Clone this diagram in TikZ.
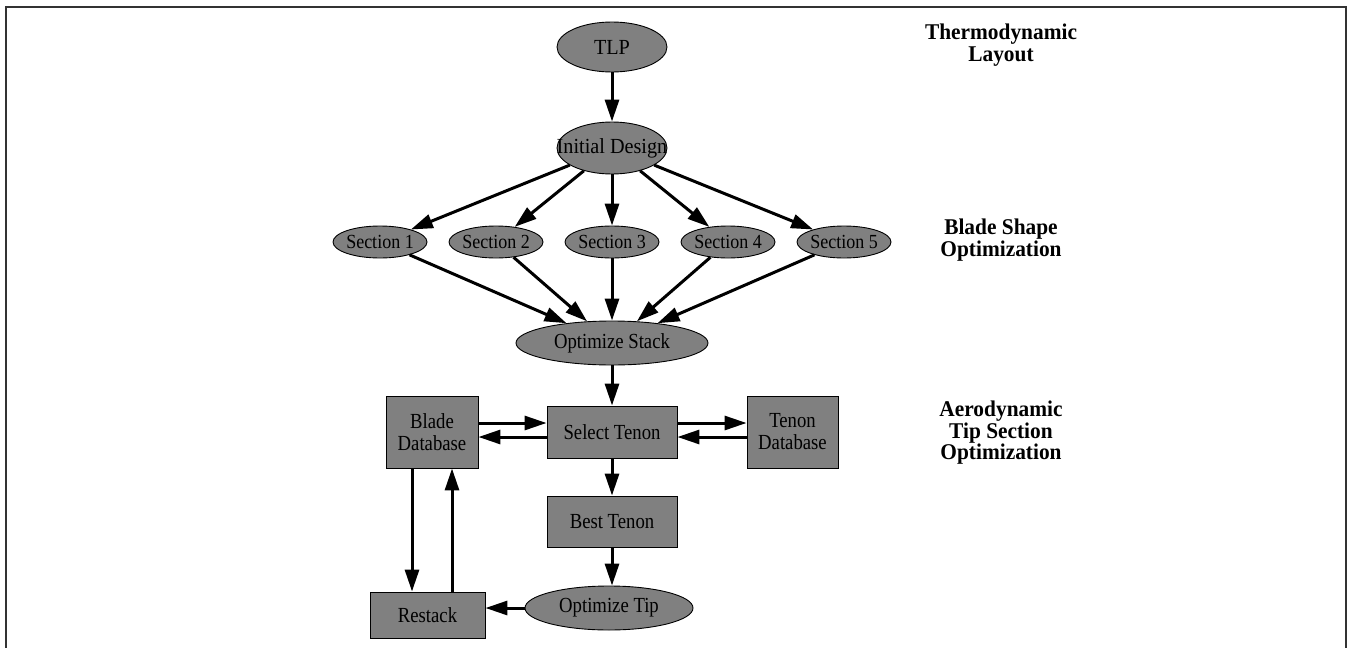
\documentclass[tikz,border=0pt]{standalone}
\usepackage{fontspec}
\setmainfont{Liberation Serif}
\newfontfamily\fA{Liberation Serif}[FakeStretch=0.87]
\newfontfamily\fB{Liberation Serif}[FakeStretch=0.94]
\newfontfamily\fS{Liberation Serif}[FakeStretch=0.9]
\newfontfamily\fL{Liberation Serif}[FakeStretch=0.95]
\usetikzlibrary{shapes.geometric,arrows.meta}
\definecolor{nodegray}{HTML}{808080}
\definecolor{framegray}{HTML}{333333}
\newcommand{\zt}[1]{\makebox[0pt]{#1}}
\tikzset{
  ell/.style={ellipse, draw=black, line width=0.9pt, fill=nodegray, inner sep=0pt},
  boxn/.style={rectangle, draw=black, line width=0.9pt, fill=nodegray, inner sep=0pt, align=center},
  bigtxt/.style={font=\fB\fontsize{21.5}{22}\selectfont},
  midtxt/.style={font=\fA\fontsize{21.5}{22}\selectfont},
  smalltxt/.style={font=\fS\fontsize{20}{20}\selectfont},
  lev/.style={font=\fL\fontsize{22.5}{21.5}\selectfont\bfseries, align=center, inner sep=0pt},
  conn/.style={line width=3pt, -{Triangle[length=22pt,width=14pt]}}
}
\begin{document}
\begin{tikzpicture}[x=1pt,y=-1pt]
\useasboundingbox (0,0) rectangle (1347,648);
\draw[framegray, line width=1.5pt] (6,648) -- (6,7) -- (1346,7) -- (1346,648);

% nodes
\node[ell, bigtxt, minimum width=110pt, minimum height=50pt] (tlp) at (612,47) {\zt{TLP}};
\node[ell, bigtxt, minimum width=110pt, minimum height=52pt] (init) at (612,148) {\zt{Initial Design}};
\foreach \i/\x in {1/380,2/496,3/612,4/728,5/844}{
  \node[ell, smalltxt, minimum width=94pt, minimum height=32pt] (s\i) at (\x,242) {\zt{Section \i}};
}
\node[ell, midtxt, minimum width=192pt, minimum height=44pt] (ostack) at (612,343) {\zt{Optimize Stack}};
\node[boxn, midtxt, minimum width=130pt, minimum height=52pt] (sel) at (612,432) {Select Tenon};
\node[boxn, midtxt, minimum width=92pt, minimum height=72pt] (blade) at (432,432) {Blade\\Database};
\node[boxn, midtxt, minimum width=91pt, minimum height=72pt] (tenon) at (792.5,432) {Tenon\\Database};
\node[boxn, midtxt, minimum width=130pt, minimum height=51pt] (best) at (612,521.5) {Best Tenon};
\node[ell, midtxt, minimum width=168pt, minimum height=44pt] (tip) at (609,608) {\zt{Optimize Tip}};
\node[boxn, midtxt, minimum width=115pt, minimum height=46pt] (restack) at (427.5,615) {Restack};

% level labels
\node[lev] (l1) at (1001,45) {Thermodynamic\\Layout};
\node[lev] (l2) at (1001,240) {Blade Shape\\Optimization};
\node[lev] (l3) at (1001,433) {Aerodynamic\\Tip Section\\Optimization};

% connectors
\draw[conn] (tlp) -- (init);
\foreach \i in {1,...,5}{
  \draw[conn] (init) -- (s\i);
  \draw[conn] (s\i) -- (ostack);
}
\draw[conn] (ostack) -- (sel);
\draw[conn] ([yshift=9pt]blade.east) -- ([yshift=9pt]blade.east -| sel.west);
\draw[conn] ([yshift=-5pt]sel.west) -- ([yshift=-5pt]sel.west -| blade.east);
\draw[conn] ([yshift=9pt]sel.east) -- ([yshift=9pt]sel.east -| tenon.west);
\draw[conn] ([yshift=-5pt]tenon.west) -- ([yshift=-5pt]tenon.west -| sel.east);
\draw[conn] (sel) -- (best);
\draw[conn] (best.south) -- (best.south |- tip.north);
\draw[conn] (tip.west) -- (tip.west -| restack.east);
\draw[conn] ([xshift=-20pt]blade.south) -- ([xshift=-20pt]blade.south |- restack.north);
\draw[conn] ([xshift=20pt]restack.north -| blade.south) -- ([xshift=20pt]blade.south);
\end{tikzpicture}
\end{document}
